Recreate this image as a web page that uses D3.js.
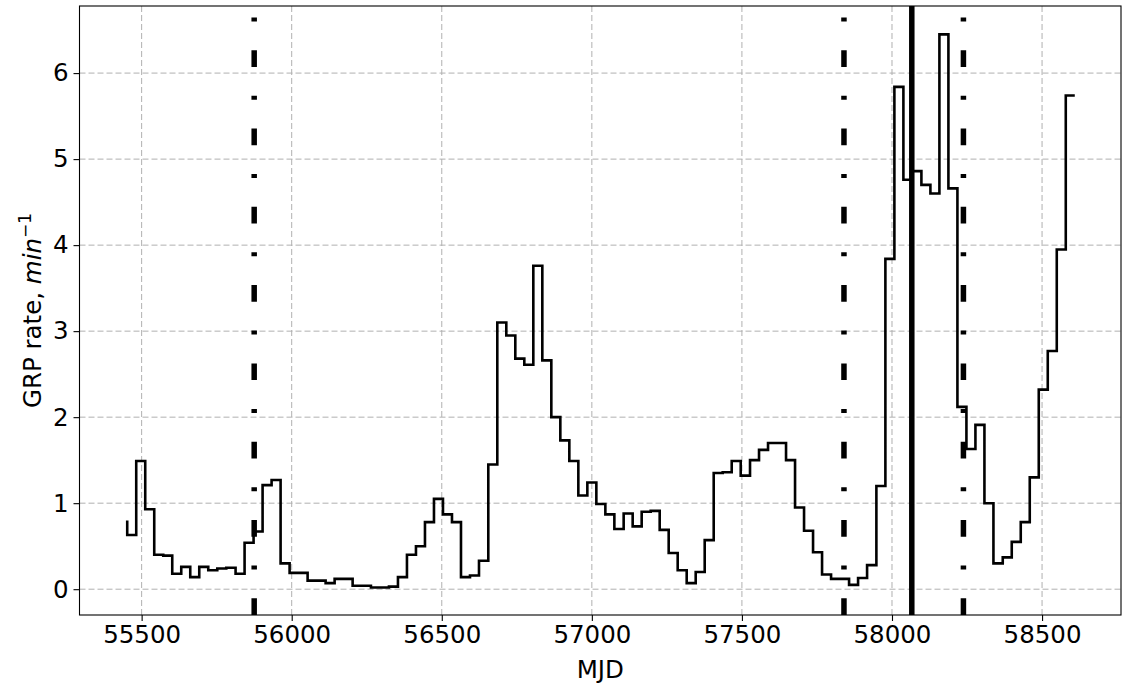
<!DOCTYPE html>
<html>
<head>
<meta charset="utf-8">
<script src="https://cdn.jsdelivr.net/npm/d3@7"></script>
<style>
  body { margin: 0; background: #fff; }
  svg { font-family: "DejaVu Sans", sans-serif; }
  .grid line { stroke: #b0b0b0; stroke-width: 1; stroke-dasharray: 6,3; }
</style>
</head>
<body>
<div id="chart"></div>
<script>
// step edges (MJD) and GRP rate; first value only starts the step line
const mjd = [55452, 55482, 55512, 55542, 55572, 55602, 55632, 55662, 55692, 55722,
             55752, 55782, 55813, 55843, 55873, 55903, 55933, 55963, 55993, 56023,
             56053, 56083, 56113, 56143, 56173, 56203, 56234, 56264, 56294, 56324,
             56354, 56384, 56414, 56444, 56474, 56504, 56534, 56564, 56594, 56624,
             56655, 56685, 56715, 56745, 56775, 56805, 56835, 56865, 56895, 56925,
             56955, 56985, 57015, 57045, 57075, 57106, 57136, 57166, 57196, 57226,
             57256, 57286, 57316, 57346, 57376, 57406, 57436, 57466, 57496, 57527,
             57557, 57587, 57617, 57647, 57677, 57707, 57737, 57767, 57797, 57827,
             57857, 57887, 57917, 57948, 57978, 58008, 58038, 58068, 58098, 58128,
             58158, 58188, 58218, 58248, 58278, 58308, 58338, 58369, 58399, 58429,
             58459, 58489, 58519, 58549, 58579, 58609];
const rate = [0.80, 0.63, 1.49, 0.93, 0.40, 0.39, 0.18, 0.26, 0.14, 0.26,
              0.22, 0.24, 0.25, 0.18, 0.54, 0.67, 1.21, 1.27, 0.30, 0.19,
              0.19, 0.10, 0.10, 0.07, 0.12, 0.12, 0.04, 0.04, 0.02, 0.02,
              0.03, 0.14, 0.40, 0.50, 0.78, 1.05, 0.87, 0.78, 0.14, 0.16,
              0.33, 1.45, 3.10, 2.95, 2.68, 2.61, 3.76, 2.66, 2.00, 1.73,
              1.49, 1.09, 1.24, 0.99, 0.87, 0.70, 0.88, 0.73, 0.90, 0.91,
              0.69, 0.42, 0.22, 0.07, 0.20, 0.57, 1.35, 1.36, 1.49, 1.32,
              1.50, 1.62, 1.70, 1.70, 1.50, 0.95, 0.68, 0.43, 0.17, 0.12,
              0.12, 0.05, 0.13, 0.28, 1.20, 3.84, 5.84, 4.76, 4.86, 4.70,
              4.60, 6.45, 4.66, 2.12, 1.63, 1.91, 1.00, 0.30, 0.37, 0.55,
              0.78, 1.30, 2.32, 2.77, 3.95, 5.74];

// marked epochs
const dashDotMjd = [55875, 57840, 58238];
const solidMjd = [58066];

const xTicks = [55500, 56000, 56500, 57000, 57500, 58000, 58500];
const yTicks = [0, 1, 2, 3, 4, 5, 6];

const W = 1136, H = 690;
const plotL = 79.5, plotR = 1121, plotT = 6, plotB = 615;

const svg = d3.select('#chart').append('svg')
    .attr('width', W).attr('height', H);

const x = d3.scaleLinear().domain([55293, 58763]).range([plotL, plotR]);
const y = d3.scaleLinear().domain([-0.3, 6.78]).range([plotB, plotT]);

svg.append('clipPath').attr('id', 'clip')
   .append('rect').attr('x', plotL).attr('y', plotT)
   .attr('width', plotR - plotL).attr('height', plotB - plotT);

// grid
let grid = svg.append('g').attr('class', 'grid');
grid.selectAll('.gx').data(xTicks).enter().append('line')
    .attr('x1', d => x(d)).attr('x2', d => x(d))
    .attr('y1', plotB).attr('y2', plotT);
grid.selectAll('.gy').data(yTicks).enter().append('line')
    .attr('x1', plotL).attr('x2', plotR)
    .attr('y1', d => y(d)).attr('y2', d => y(d));

let plot = svg.append('g').attr('clip-path', 'url(#clip)');

// step curve
let points = mjd.map((m, i) => [m, rate[i]]);
let line = d3.line().x(d => x(d[0])).y(d => y(d[1])).curve(d3.curveStepBefore);
plot.append('path').datum(points)
    .attr('d', line)
    .attr('fill', 'none')
    .attr('stroke', '#000')
    .attr('stroke-width', 2.6)
    .attr('stroke-linejoin', 'miter');

// vertical markers
plot.selectAll('.dd').data(dashDotMjd).enter().append('line')
    .attr('x1', d => x(d)).attr('x2', d => x(d))
    .attr('y1', plotB).attr('y2', plotT)
    .attr('stroke', '#000')
    .attr('stroke-width', 5.5)
    .attr('stroke-dasharray', '16.7,28.8,4,28.8');
plot.selectAll('.sl').data(solidMjd).enter().append('line')
    .attr('x1', d => x(d)).attr('x2', d => x(d))
    .attr('y1', plotB).attr('y2', plotT)
    .attr('stroke', '#000')
    .attr('stroke-width', 5.5);

// axes
let xAxis = d3.axisBottom(x).tickValues(xTicks).tickFormat(d3.format('d'))
    .tickSize(6).tickPadding(5);
let gx = svg.append('g').attr('transform', `translate(0,${plotB})`).call(xAxis);
let yAxis = d3.axisLeft(y).tickValues(yTicks).tickFormat(d3.format('d'))
    .tickSize(6).tickPadding(5);
let gy = svg.append('g').attr('transform', `translate(${plotL},0)`).call(yAxis);

[gx, gy].forEach(g => {
    g.select('.domain').remove();
    g.selectAll('.tick line').attr('stroke', '#000').attr('stroke-width', 1.1);
    g.selectAll('.tick text').attr('font-size', 24.5).attr('fill', '#000')
     .attr('font-family', '"DejaVu Sans", sans-serif');
});

// frame
svg.append('rect')
    .attr('x', plotL).attr('y', plotT)
    .attr('width', plotR - plotL).attr('height', plotB - plotT)
    .attr('fill', 'none').attr('stroke', '#000').attr('stroke-width', 1.1);

// labels
svg.append('text')
    .attr('x', (plotL + plotR) / 2).attr('y', 678)
    .attr('text-anchor', 'middle').attr('font-size', 24.5)
    .text('MJD');

let yl = svg.append('text')
    .attr('transform', `translate(41,${(plotT + plotB) / 2}) rotate(-90)`)
    .attr('text-anchor', 'middle').attr('font-size', 24.5);
yl.append('tspan').text('GRP rate, ');
yl.append('tspan').attr('font-style', 'italic').text('min');
yl.append('tspan').attr('font-size', 17).attr('dy', -10).text('\u22121');
</script>
</body>
</html>
